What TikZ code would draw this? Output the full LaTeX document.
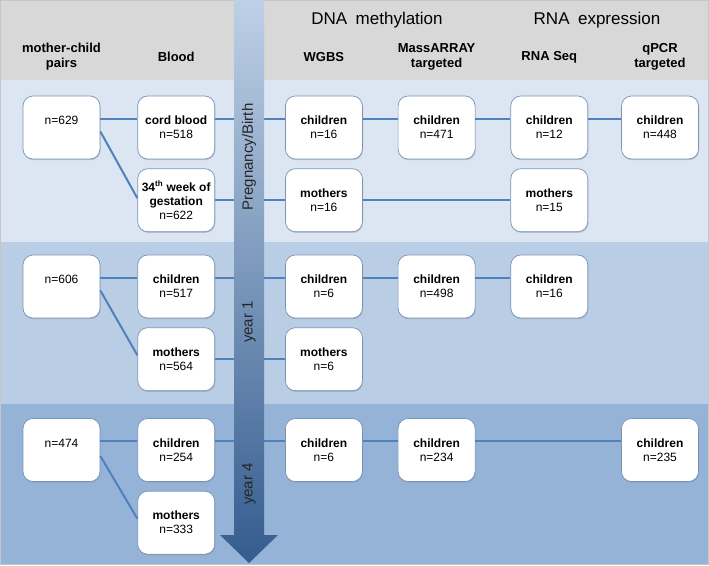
\documentclass[tikz,border=0pt]{standalone}
\usepackage{fontspec}
\setmainfont{Liberation Sans}
\usetikzlibrary{positioning, shadows}

\definecolor{hdrgray}{RGB}{216,216,216}
\definecolor{bandbirth}{RGB}{220,230,242}
\definecolor{bandone}{RGB}{185,205,228}
\definecolor{bandfour}{RGB}{149,179,215}
\definecolor{linkblue}{RGB}{79,129,189}
\definecolor{boxline}{RGB}{120,148,185}
\definecolor{arrtop}{RGB}{190,208,230}
\definecolor{arrbot}{RGB}{52,92,142}

\begin{document}
\begin{tikzpicture}[x=1pt, y=-1pt, node distance=9pt and 35pt,
    box/.style={draw=boxline, line width=0.7pt, fill=white, rounded corners=10pt, minimum width=77pt, minimum height=63pt, inner sep=2pt, align=center, font=\fontsize{12}{14}\selectfont, drop shadow={shadow xshift=0.6pt, shadow yshift=-1.2pt, opacity=0.35}},
    head/.style={align=center, font=\fontsize{13}{15}\selectfont\bfseries},
    link/.style={draw=linkblue, line width=2pt},
    timelbl/.style={rotate=90, text=black!85, font=\fontsize{15}{17}\selectfont}]
    \useasboundingbox (0,0) rectangle (709,565);

    % bands
    \fill[hdrgray] (0,0) rectangle (709,80);
    \fill[bandbirth] (0,80) rectangle (709,242);
    \fill[bandone] (0,242) rectangle (709,404);
    \fill[bandfour] (0,404) rectangle (709,565);
    \draw[gray!45, line width=0.8pt] (0.4,0.4) rectangle (708.6,564.6);

    % pregnancy / birth
    \node[box] (pairs1) at (61.5,127.5) {n=629\\~};
    \node[box, right=37pt of pairs1] (cord) {\textbf{cord blood}\\n=518};
    \node[box, below=of cord] (gest) {\textbf{34\textsuperscript{th} week of}\\\textbf{gestation}\\n=622};
    \node[box, right=70pt of cord] (wgbs1) {\textbf{children}\\n=16};
    \node[box, below=of wgbs1] (wgbsm1) {\textbf{mothers}\\n=16};
    \node[box, right=of wgbs1] (mass1) {\textbf{children}\\n=471};
    \node[box, right=of mass1] (rna1) {\textbf{children}\\n=12};
    \node[box, below=of rna1] (rnam1) {\textbf{mothers}\\n=15};
    \node[box, right=33pt of rna1] (qpcr1) {\textbf{children}\\n=448};

    % year 1
    \node[box] (pairs2) at (61.5,286.5) {n=606\\~};
    \node[box, right=37pt of pairs2] (child2) {\textbf{children}\\n=517};
    \node[box, below=of child2] (moth2) {\textbf{mothers}\\n=564};
    \node[box, right=70pt of child2] (wgbs2) {\textbf{children}\\n=6};
    \node[box, below=of wgbs2] (wgbsm2) {\textbf{mothers}\\n=6};
    \node[box, right=of wgbs2] (mass2) {\textbf{children}\\n=498};
    \node[box, right=of mass2] (rna2) {\textbf{children}\\n=16};

    % year 4
    \node[box] (pairs3) at (61.5,450) {n=474\\~};
    \node[box, right=37pt of pairs3] (child3) {\textbf{children}\\n=254};
    \node[box, below=of child3] (moth3) {\textbf{mothers}\\n=333};
    \node[box, right=70pt of child3] (wgbs3) {\textbf{children}\\n=6};
    \node[box, right=of wgbs3] (mass3) {\textbf{children}\\n=234};
    \node[box] (qpcr3) at (qpcr1 |- mass3) {\textbf{children}\\n=235};

    % headings
    \coordinate (hdr) at (0,57);
    \node[head] (hpairs) at (pairs1 |- hdr) {mother-child\\pairs};
    \node[head] (hblood) at (cord |- hdr) {Blood};
    \node[head] (hwgbs) at (wgbs1 |- hdr) {WGBS};
    \node[head] (hmass) at (mass1 |- hdr) {MassARRAY\\targeted};
    \node[head] (hrna) at (rna1 |- hdr) {RNA Seq};
    \node[head] (hqpcr) at (qpcr1 |- hdr) {qPCR\\targeted};
    \node[font=\fontsize{17}{19}\selectfont] (dnahead) at (377,20) {DNA\enspace methylation};
    \node[font=\fontsize{17}{19}\selectfont] (rnahead) at (597,20) {RNA\enspace expression};

    % connectors
    \draw[link] ([yshift=9pt]pairs1.east) -- ([yshift=9pt]cord.west);
    \draw[link] ([yshift=-4pt]pairs1.east) -- ([yshift=2pt]gest.west);
    \draw[link] ([yshift=9pt]cord.east) -- ([yshift=9pt]wgbs1.west);
    \draw[link] ([yshift=9pt]wgbs1.east) -- ([yshift=9pt]mass1.west);
    \draw[link] ([yshift=9pt]mass1.east) -- ([yshift=9pt]rna1.west);
    \draw[link] ([yshift=9pt]rna1.east) -- ([yshift=9pt]qpcr1.west);
    \draw[link] (gest.east) -- (wgbsm1.west);
    \draw[link] (wgbsm1.east) -- (rnam1.west);

    \draw[link] ([yshift=9pt]pairs2.east) -- ([yshift=9pt]child2.west);
    \draw[link] ([yshift=-4pt]pairs2.east) -- ([yshift=4pt]moth2.west);
    \draw[link] ([yshift=9pt]child2.east) -- ([yshift=9pt]wgbs2.west);
    \draw[link] (moth2.east) -- (wgbsm2.west);
    \draw[link] ([yshift=9pt]wgbs2.east) -- ([yshift=9pt]mass2.west);
    \draw[link] ([yshift=9pt]mass2.east) -- ([yshift=9pt]rna2.west);

    \draw[link] ([yshift=9pt]pairs3.east) -- ([yshift=9pt]child3.west);
    \draw[link] ([yshift=-6pt]pairs3.east) -- ([yshift=4pt]moth3.west);
    \draw[link] ([yshift=9pt]child3.east) -- ([yshift=9pt]wgbs3.west);
    \draw[link] ([yshift=9pt]wgbs3.east) -- ([yshift=9pt]mass3.west);
    \draw[link] ([yshift=9pt]mass3.east) -- ([yshift=9pt]qpcr3.west);

    % time arrow
    \shade[top color=arrtop, bottom color=arrbot] (234,0) -- (264,0) -- (264,535) -- (278,535) -- (249,563) -- (220,535) -- (234,535) -- cycle;
    \node[timelbl] (tbirth) at (249,157) {Pregnancy/Birth};
    \node[timelbl] (tone) at (249,322) {year 1};
    \node[timelbl] (tfour) at (249,484) {year 4};
\end{tikzpicture}
\end{document}
